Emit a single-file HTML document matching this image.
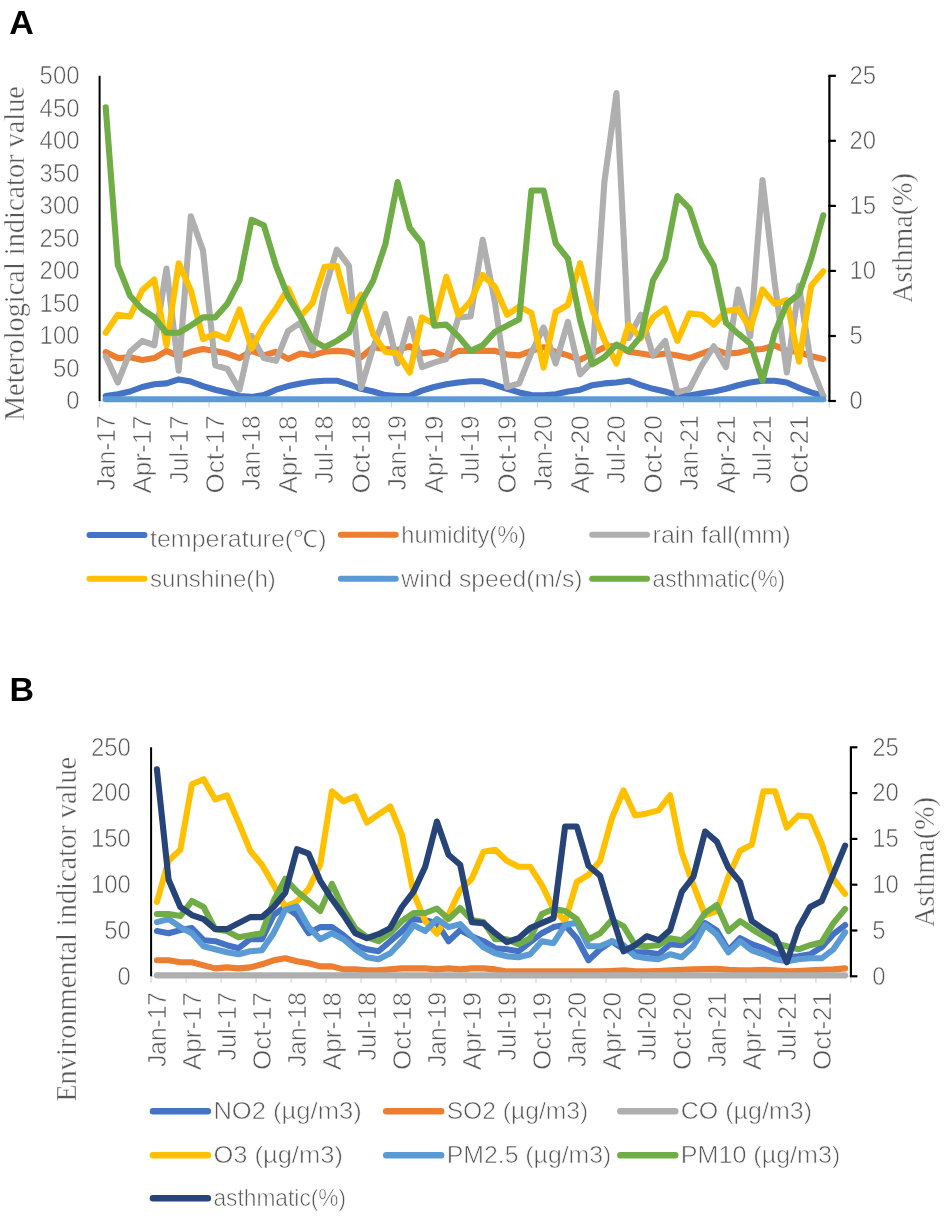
<!DOCTYPE html>
<html><head><meta charset="utf-8"><style>
html,body{margin:0;padding:0;background:#fff;width:945px;height:1217px;overflow:hidden}
svg{display:block;will-change:transform}
text{font-family:"Liberation Sans",sans-serif;stroke:#fff;stroke-width:0.6px}
.t{font-family:"Liberation Serif",serif;stroke:#fff;stroke-width:0.4px}
</style></head><body>
<svg width="945" height="1217" viewBox="0 0 945 1217">
<rect width="945" height="1217" fill="#fff"/>
<text x="9.2" y="34" font-size="34" font-weight="bold" fill="#000" style="stroke:none">A</text>
<text x="9.6" y="701.3" font-size="34" font-weight="bold" fill="#000" style="stroke:none">B</text>
<line x1="99.6" y1="401.0" x2="829.4" y2="401.0" stroke="#D9D9D9" stroke-width="1.3"/>
<line x1="99.6" y1="401.0" x2="99.6" y2="407.5" stroke="#D9D9D9" stroke-width="1.3"/>
<line x1="136.1" y1="401.0" x2="136.1" y2="407.5" stroke="#D9D9D9" stroke-width="1.3"/>
<line x1="172.6" y1="401.0" x2="172.6" y2="407.5" stroke="#D9D9D9" stroke-width="1.3"/>
<line x1="209.1" y1="401.0" x2="209.1" y2="407.5" stroke="#D9D9D9" stroke-width="1.3"/>
<line x1="245.6" y1="401.0" x2="245.6" y2="407.5" stroke="#D9D9D9" stroke-width="1.3"/>
<line x1="282.0" y1="401.0" x2="282.0" y2="407.5" stroke="#D9D9D9" stroke-width="1.3"/>
<line x1="318.5" y1="401.0" x2="318.5" y2="407.5" stroke="#D9D9D9" stroke-width="1.3"/>
<line x1="355.0" y1="401.0" x2="355.0" y2="407.5" stroke="#D9D9D9" stroke-width="1.3"/>
<line x1="391.5" y1="401.0" x2="391.5" y2="407.5" stroke="#D9D9D9" stroke-width="1.3"/>
<line x1="428.0" y1="401.0" x2="428.0" y2="407.5" stroke="#D9D9D9" stroke-width="1.3"/>
<line x1="464.5" y1="401.0" x2="464.5" y2="407.5" stroke="#D9D9D9" stroke-width="1.3"/>
<line x1="501.0" y1="401.0" x2="501.0" y2="407.5" stroke="#D9D9D9" stroke-width="1.3"/>
<line x1="537.5" y1="401.0" x2="537.5" y2="407.5" stroke="#D9D9D9" stroke-width="1.3"/>
<line x1="574.0" y1="401.0" x2="574.0" y2="407.5" stroke="#D9D9D9" stroke-width="1.3"/>
<line x1="610.5" y1="401.0" x2="610.5" y2="407.5" stroke="#D9D9D9" stroke-width="1.3"/>
<line x1="646.9" y1="401.0" x2="646.9" y2="407.5" stroke="#D9D9D9" stroke-width="1.3"/>
<line x1="683.4" y1="401.0" x2="683.4" y2="407.5" stroke="#D9D9D9" stroke-width="1.3"/>
<line x1="719.9" y1="401.0" x2="719.9" y2="407.5" stroke="#D9D9D9" stroke-width="1.3"/>
<line x1="756.4" y1="401.0" x2="756.4" y2="407.5" stroke="#D9D9D9" stroke-width="1.3"/>
<line x1="792.9" y1="401.0" x2="792.9" y2="407.5" stroke="#D9D9D9" stroke-width="1.3"/>
<line x1="829.4" y1="401.0" x2="829.4" y2="407.5" stroke="#D9D9D9" stroke-width="1.3"/>
<line x1="99.6" y1="75.8" x2="99.6" y2="401.0" stroke="#000" stroke-width="2"/>
<line x1="829.4" y1="75.8" x2="829.4" y2="401.0" stroke="#000" stroke-width="2.2"/>
<line x1="828.4" y1="401.0" x2="835.9" y2="401.0" stroke="#000" stroke-width="2.2"/>
<line x1="828.4" y1="336.0" x2="835.9" y2="336.0" stroke="#000" stroke-width="2.2"/>
<line x1="828.4" y1="270.9" x2="835.9" y2="270.9" stroke="#000" stroke-width="2.2"/>
<line x1="828.4" y1="205.9" x2="835.9" y2="205.9" stroke="#000" stroke-width="2.2"/>
<line x1="828.4" y1="140.8" x2="835.9" y2="140.8" stroke="#000" stroke-width="2.2"/>
<line x1="828.4" y1="75.8" x2="835.9" y2="75.8" stroke="#000" stroke-width="2.2"/>
<text x="79.5" y="409.3" font-size="26" fill="#575757" text-anchor="end" textLength="13.3" lengthAdjust="spacingAndGlyphs">0</text>
<text x="79.5" y="376.8" font-size="26" fill="#575757" text-anchor="end" textLength="26.6" lengthAdjust="spacingAndGlyphs">50</text>
<text x="79.5" y="344.3" font-size="26" fill="#575757" text-anchor="end" textLength="39.9" lengthAdjust="spacingAndGlyphs">100</text>
<text x="79.5" y="311.7" font-size="26" fill="#575757" text-anchor="end" textLength="39.9" lengthAdjust="spacingAndGlyphs">150</text>
<text x="79.5" y="279.2" font-size="26" fill="#575757" text-anchor="end" textLength="39.9" lengthAdjust="spacingAndGlyphs">200</text>
<text x="79.5" y="246.7" font-size="26" fill="#575757" text-anchor="end" textLength="39.9" lengthAdjust="spacingAndGlyphs">250</text>
<text x="79.5" y="214.2" font-size="26" fill="#575757" text-anchor="end" textLength="39.9" lengthAdjust="spacingAndGlyphs">300</text>
<text x="79.5" y="181.7" font-size="26" fill="#575757" text-anchor="end" textLength="39.9" lengthAdjust="spacingAndGlyphs">350</text>
<text x="79.5" y="149.1" font-size="26" fill="#575757" text-anchor="end" textLength="39.9" lengthAdjust="spacingAndGlyphs">400</text>
<text x="79.5" y="116.6" font-size="26" fill="#575757" text-anchor="end" textLength="39.9" lengthAdjust="spacingAndGlyphs">450</text>
<text x="79.5" y="84.1" font-size="26" fill="#575757" text-anchor="end" textLength="39.9" lengthAdjust="spacingAndGlyphs">500</text>
<text x="849.5" y="409.3" font-size="26" fill="#575757" textLength="13.3" lengthAdjust="spacingAndGlyphs">0</text>
<text x="849.5" y="344.3" font-size="26" fill="#575757" textLength="13.3" lengthAdjust="spacingAndGlyphs">5</text>
<text x="849.5" y="279.2" font-size="26" fill="#575757" textLength="26.6" lengthAdjust="spacingAndGlyphs">10</text>
<text x="849.5" y="214.2" font-size="26" fill="#575757" textLength="26.6" lengthAdjust="spacingAndGlyphs">15</text>
<text x="849.5" y="149.1" font-size="26" fill="#575757" textLength="26.6" lengthAdjust="spacingAndGlyphs">20</text>
<text x="849.5" y="84.1" font-size="26" fill="#575757" textLength="26.6" lengthAdjust="spacingAndGlyphs">25</text>
<text transform="translate(114.5,415.4) rotate(-90)" font-size="26.3" fill="#575757" text-anchor="end" textLength="75" lengthAdjust="spacingAndGlyphs">Jan-17</text>
<text transform="translate(151.0,415.4) rotate(-90)" font-size="26.3" fill="#575757" text-anchor="end" textLength="78.2" lengthAdjust="spacingAndGlyphs">Apr-17</text>
<text transform="translate(187.5,415.4) rotate(-90)" font-size="26.3" fill="#575757" text-anchor="end" textLength="68.7" lengthAdjust="spacingAndGlyphs">Jul-17</text>
<text transform="translate(224.0,415.4) rotate(-90)" font-size="26.3" fill="#575757" text-anchor="end" textLength="78" lengthAdjust="spacingAndGlyphs">Oct-17</text>
<text transform="translate(260.4,415.4) rotate(-90)" font-size="26.3" fill="#575757" text-anchor="end" textLength="75" lengthAdjust="spacingAndGlyphs">Jan-18</text>
<text transform="translate(296.9,415.4) rotate(-90)" font-size="26.3" fill="#575757" text-anchor="end" textLength="78.2" lengthAdjust="spacingAndGlyphs">Apr-18</text>
<text transform="translate(333.4,415.4) rotate(-90)" font-size="26.3" fill="#575757" text-anchor="end" textLength="68.7" lengthAdjust="spacingAndGlyphs">Jul-18</text>
<text transform="translate(369.9,415.4) rotate(-90)" font-size="26.3" fill="#575757" text-anchor="end" textLength="78" lengthAdjust="spacingAndGlyphs">Oct-18</text>
<text transform="translate(406.4,415.4) rotate(-90)" font-size="26.3" fill="#575757" text-anchor="end" textLength="75" lengthAdjust="spacingAndGlyphs">Jan-19</text>
<text transform="translate(442.9,415.4) rotate(-90)" font-size="26.3" fill="#575757" text-anchor="end" textLength="78.2" lengthAdjust="spacingAndGlyphs">Apr-19</text>
<text transform="translate(479.4,415.4) rotate(-90)" font-size="26.3" fill="#575757" text-anchor="end" textLength="68.7" lengthAdjust="spacingAndGlyphs">Jul-19</text>
<text transform="translate(515.9,415.4) rotate(-90)" font-size="26.3" fill="#575757" text-anchor="end" textLength="78" lengthAdjust="spacingAndGlyphs">Oct-19</text>
<text transform="translate(552.4,415.4) rotate(-90)" font-size="26.3" fill="#575757" text-anchor="end" textLength="75" lengthAdjust="spacingAndGlyphs">Jan-20</text>
<text transform="translate(588.9,415.4) rotate(-90)" font-size="26.3" fill="#575757" text-anchor="end" textLength="78.2" lengthAdjust="spacingAndGlyphs">Apr-20</text>
<text transform="translate(625.3,415.4) rotate(-90)" font-size="26.3" fill="#575757" text-anchor="end" textLength="68.7" lengthAdjust="spacingAndGlyphs">Jul-20</text>
<text transform="translate(661.8,415.4) rotate(-90)" font-size="26.3" fill="#575757" text-anchor="end" textLength="78" lengthAdjust="spacingAndGlyphs">Oct-20</text>
<text transform="translate(698.3,415.4) rotate(-90)" font-size="26.3" fill="#575757" text-anchor="end" textLength="75" lengthAdjust="spacingAndGlyphs">Jan-21</text>
<text transform="translate(734.8,415.4) rotate(-90)" font-size="26.3" fill="#575757" text-anchor="end" textLength="78.2" lengthAdjust="spacingAndGlyphs">Apr-21</text>
<text transform="translate(771.3,415.4) rotate(-90)" font-size="26.3" fill="#575757" text-anchor="end" textLength="68.7" lengthAdjust="spacingAndGlyphs">Jul-21</text>
<text transform="translate(807.8,415.4) rotate(-90)" font-size="26.3" fill="#575757" text-anchor="end" textLength="78" lengthAdjust="spacingAndGlyphs">Oct-21</text>
<text class="t" transform="translate(24.0,253.6) rotate(-90)" font-size="29.5" fill="#575757" text-anchor="middle" textLength="335" lengthAdjust="spacingAndGlyphs">Meterological indicator value</text>
<text class="t" transform="translate(911.6,238.0) rotate(-90)" font-size="29" fill="#575757" text-anchor="middle" textLength="130" lengthAdjust="spacingAndGlyphs">Asthma(%)</text>
<polyline points="105.7,396.0 117.8,394.2 130.0,391.5 142.2,387.0 154.3,384.3 166.5,383.4 178.7,379.4 190.8,381.6 203.0,386.1 215.2,389.7 227.3,392.4 239.5,396.0 251.6,396.9 263.8,395.1 276.0,389.7 288.1,386.1 300.3,383.4 312.5,381.6 324.6,380.7 336.8,380.7 348.9,384.3 361.1,388.8 373.3,391.5 385.4,395.1 397.6,396.0 409.8,395.7 421.9,390.6 434.1,387.0 446.3,384.3 458.4,382.5 470.6,381.2 482.7,381.2 494.9,384.8 507.1,388.8 519.2,392.4 531.4,395.1 543.6,395.4 555.7,394.2 567.9,391.5 580.1,389.7 592.2,385.2 604.4,383.4 616.5,382.5 628.7,380.7 640.9,385.2 653.0,388.8 665.2,391.5 677.4,395.1 689.5,395.6 701.7,393.3 713.8,391.5 726.0,388.8 738.2,385.2 750.3,382.5 762.5,380.7 774.7,380.7 786.8,382.5 799.0,387.9 811.2,392.4 823.3,396.0" fill="none" stroke="#4472C4" stroke-width="6.1" stroke-linejoin="round" stroke-linecap="round"/>
<polyline points="105.7,352.1 117.8,358.1 130.0,357.2 142.2,359.9 154.3,358.1 166.5,350.9 178.7,356.3 190.8,351.8 203.0,349.0 215.2,350.9 227.3,353.6 239.5,358.1 251.6,350.9 263.8,355.4 276.0,351.8 288.1,359.0 300.3,353.6 312.5,355.4 324.6,351.8 336.8,350.9 348.9,351.8 361.1,357.2 373.3,347.2 385.4,349.0 397.6,349.9 409.8,346.3 421.9,353.6 434.1,351.8 446.3,357.2 458.4,350.9 470.6,350.9 482.7,350.9 494.9,350.9 507.1,354.5 519.2,355.4 531.4,350.9 543.6,347.2 555.7,351.8 567.9,355.4 580.1,359.9 592.2,353.6 604.4,347.2 616.5,345.4 628.7,351.8 640.9,353.6 653.0,355.4 665.2,353.6 677.4,355.4 689.5,358.1 701.7,353.6 713.8,349.0 726.0,353.6 738.2,352.7 750.3,349.9 762.5,349.0 774.7,345.4 786.8,350.9 799.0,351.8 811.2,356.3 823.3,359.0" fill="none" stroke="#ED7D31" stroke-width="6.1" stroke-linejoin="round" stroke-linecap="round"/>
<polyline points="105.7,356.3 117.8,382.5 130.0,351.8 142.2,340.9 154.3,345.4 166.5,268.6 178.7,370.7 190.8,216.2 203.0,250.5 215.2,365.3 227.3,368.9 239.5,389.7 251.6,335.9 263.8,358.1 276.0,360.8 288.1,331.0 300.3,322.8 312.5,350.9 324.6,290.3 336.8,249.6 348.9,265.9 361.1,387.9 373.3,347.2 385.4,313.8 397.6,363.5 409.8,319.2 421.9,367.1 434.1,362.6 446.3,359.0 458.4,317.4 470.6,316.5 482.7,239.7 494.9,302.1 507.1,387.0 519.2,383.4 531.4,352.7 543.6,327.4 555.7,363.5 567.9,321.9 580.1,374.3 592.2,361.7 604.4,182.0 616.5,93.0 628.7,338.2 640.9,314.7 653.0,355.4 665.2,340.9 677.4,392.4 689.5,388.8 701.7,365.3 713.8,346.3 726.0,367.1 738.2,289.4 750.3,336.4 762.5,180.0 774.7,283.0 786.8,372.5 799.0,285.8 811.2,365.3 823.3,396.0" fill="none" stroke="#AFAFAF" stroke-width="6.1" stroke-linejoin="round" stroke-linecap="round"/>
<polyline points="105.7,332.8 117.8,314.7 130.0,316.5 142.2,290.3 154.3,279.5 166.5,345.4 178.7,263.2 190.8,290.3 203.0,339.1 215.2,333.7 227.3,339.1 239.5,309.3 251.6,348.6 263.8,325.6 276.0,308.4 288.1,288.5 300.3,316.5 312.5,303.0 324.6,266.8 336.8,265.9 348.9,311.1 361.1,294.8 373.3,334.6 385.4,351.8 397.6,353.6 409.8,372.5 421.9,317.4 434.1,323.7 446.3,276.8 458.4,314.7 470.6,301.2 482.7,274.9 494.9,286.7 507.1,314.7 519.2,306.6 531.4,312.9 543.6,367.6 555.7,312.0 567.9,304.8 580.1,263.2 592.2,309.3 604.4,340.0 616.5,363.5 628.7,324.6 640.9,338.2 653.0,317.4 665.2,308.4 677.4,340.9 689.5,313.4 701.7,314.7 713.8,324.6 726.0,311.1 738.2,309.3 750.3,328.3 762.5,289.4 774.7,303.9 786.8,300.2 799.0,361.7 811.2,285.8 823.3,271.3" fill="none" stroke="#FFC000" stroke-width="6.1" stroke-linejoin="round" stroke-linecap="round"/>
<polyline points="105.7,399.3 117.8,399.3 130.0,399.3 142.2,399.3 154.3,399.3 166.5,399.3 178.7,399.3 190.8,399.3 203.0,399.3 215.2,399.3 227.3,399.3 239.5,399.3 251.6,399.3 263.8,399.3 276.0,399.3 288.1,399.3 300.3,399.3 312.5,399.3 324.6,399.3 336.8,399.3 348.9,399.3 361.1,399.3 373.3,399.3 385.4,399.3 397.6,399.3 409.8,399.3 421.9,399.3 434.1,399.3 446.3,399.3 458.4,399.3 470.6,399.3 482.7,399.3 494.9,399.3 507.1,399.3 519.2,399.3 531.4,399.3 543.6,399.3 555.7,399.3 567.9,399.3 580.1,399.3 592.2,399.3 604.4,399.3 616.5,399.3 628.7,399.3 640.9,399.3 653.0,399.3 665.2,399.3 677.4,399.3 689.5,399.3 701.7,399.3 713.8,399.3 726.0,399.3 738.2,399.3 750.3,399.3 762.5,399.3 774.7,399.3 786.8,399.3 799.0,399.3 811.2,399.3 823.3,399.3" fill="none" stroke="#5B9BD5" stroke-width="6.1" stroke-linejoin="round" stroke-linecap="round"/>
<polyline points="105.7,107.2 117.8,265.0 130.0,295.7 142.2,309.3 154.3,317.4 166.5,332.8 178.7,332.8 190.8,325.6 203.0,317.4 215.2,317.4 227.3,303.9 239.5,280.4 251.6,219.8 263.8,225.2 276.0,265.9 288.1,296.6 300.3,316.5 312.5,340.0 324.6,347.2 336.8,340.9 348.9,332.8 361.1,302.1 373.3,280.4 385.4,244.2 397.6,182.0 409.8,228.0 421.9,243.3 434.1,325.6 446.3,324.6 458.4,336.4 470.6,350.9 482.7,345.4 494.9,331.9 507.1,325.6 519.2,319.2 531.4,190.5 543.6,190.5 555.7,243.3 567.9,258.7 580.1,320.1 592.2,364.4 604.4,357.2 616.5,344.5 628.7,350.9 640.9,336.4 653.0,280.4 665.2,258.7 677.4,196.0 689.5,208.5 701.7,245.1 713.8,265.9 726.0,322.8 738.2,333.7 750.3,343.6 762.5,380.7 774.7,332.8 786.8,303.9 799.0,293.9 811.2,258.7 823.3,215.3" fill="none" stroke="#70AD47" stroke-width="6.1" stroke-linejoin="round" stroke-linecap="round"/>
<line x1="151.1" y1="976.3" x2="850.9" y2="976.3" stroke="#D9D9D9" stroke-width="1.3"/>
<line x1="151.1" y1="976.3" x2="151.1" y2="982.8" stroke="#D9D9D9" stroke-width="1.3"/>
<line x1="186.1" y1="976.3" x2="186.1" y2="982.8" stroke="#D9D9D9" stroke-width="1.3"/>
<line x1="221.1" y1="976.3" x2="221.1" y2="982.8" stroke="#D9D9D9" stroke-width="1.3"/>
<line x1="256.1" y1="976.3" x2="256.1" y2="982.8" stroke="#D9D9D9" stroke-width="1.3"/>
<line x1="291.1" y1="976.3" x2="291.1" y2="982.8" stroke="#D9D9D9" stroke-width="1.3"/>
<line x1="326.0" y1="976.3" x2="326.0" y2="982.8" stroke="#D9D9D9" stroke-width="1.3"/>
<line x1="361.0" y1="976.3" x2="361.0" y2="982.8" stroke="#D9D9D9" stroke-width="1.3"/>
<line x1="396.0" y1="976.3" x2="396.0" y2="982.8" stroke="#D9D9D9" stroke-width="1.3"/>
<line x1="431.0" y1="976.3" x2="431.0" y2="982.8" stroke="#D9D9D9" stroke-width="1.3"/>
<line x1="466.0" y1="976.3" x2="466.0" y2="982.8" stroke="#D9D9D9" stroke-width="1.3"/>
<line x1="501.0" y1="976.3" x2="501.0" y2="982.8" stroke="#D9D9D9" stroke-width="1.3"/>
<line x1="536.0" y1="976.3" x2="536.0" y2="982.8" stroke="#D9D9D9" stroke-width="1.3"/>
<line x1="571.0" y1="976.3" x2="571.0" y2="982.8" stroke="#D9D9D9" stroke-width="1.3"/>
<line x1="606.0" y1="976.3" x2="606.0" y2="982.8" stroke="#D9D9D9" stroke-width="1.3"/>
<line x1="641.0" y1="976.3" x2="641.0" y2="982.8" stroke="#D9D9D9" stroke-width="1.3"/>
<line x1="675.9" y1="976.3" x2="675.9" y2="982.8" stroke="#D9D9D9" stroke-width="1.3"/>
<line x1="710.9" y1="976.3" x2="710.9" y2="982.8" stroke="#D9D9D9" stroke-width="1.3"/>
<line x1="745.9" y1="976.3" x2="745.9" y2="982.8" stroke="#D9D9D9" stroke-width="1.3"/>
<line x1="780.9" y1="976.3" x2="780.9" y2="982.8" stroke="#D9D9D9" stroke-width="1.3"/>
<line x1="815.9" y1="976.3" x2="815.9" y2="982.8" stroke="#D9D9D9" stroke-width="1.3"/>
<line x1="850.9" y1="976.3" x2="850.9" y2="982.8" stroke="#D9D9D9" stroke-width="1.3"/>
<line x1="151.1" y1="747.3" x2="151.1" y2="976.3" stroke="#000" stroke-width="2"/>
<line x1="850.9" y1="747.3" x2="850.9" y2="976.3" stroke="#000" stroke-width="2.2"/>
<line x1="849.9" y1="976.3" x2="857.4" y2="976.3" stroke="#000" stroke-width="2.2"/>
<line x1="849.9" y1="930.5" x2="857.4" y2="930.5" stroke="#000" stroke-width="2.2"/>
<line x1="849.9" y1="884.7" x2="857.4" y2="884.7" stroke="#000" stroke-width="2.2"/>
<line x1="849.9" y1="838.9" x2="857.4" y2="838.9" stroke="#000" stroke-width="2.2"/>
<line x1="849.9" y1="793.1" x2="857.4" y2="793.1" stroke="#000" stroke-width="2.2"/>
<line x1="849.9" y1="747.3" x2="857.4" y2="747.3" stroke="#000" stroke-width="2.2"/>
<text x="130.9" y="984.6" font-size="26" fill="#575757" text-anchor="end" textLength="13.3" lengthAdjust="spacingAndGlyphs">0</text>
<text x="130.9" y="938.8" font-size="26" fill="#575757" text-anchor="end" textLength="26.6" lengthAdjust="spacingAndGlyphs">50</text>
<text x="130.9" y="893.0" font-size="26" fill="#575757" text-anchor="end" textLength="39.9" lengthAdjust="spacingAndGlyphs">100</text>
<text x="130.9" y="847.2" font-size="26" fill="#575757" text-anchor="end" textLength="39.9" lengthAdjust="spacingAndGlyphs">150</text>
<text x="130.9" y="801.4" font-size="26" fill="#575757" text-anchor="end" textLength="39.9" lengthAdjust="spacingAndGlyphs">200</text>
<text x="130.9" y="755.6" font-size="26" fill="#575757" text-anchor="end" textLength="39.9" lengthAdjust="spacingAndGlyphs">250</text>
<text x="872.2" y="984.6" font-size="26" fill="#575757" textLength="13.3" lengthAdjust="spacingAndGlyphs">0</text>
<text x="872.2" y="938.8" font-size="26" fill="#575757" textLength="13.3" lengthAdjust="spacingAndGlyphs">5</text>
<text x="872.2" y="893.0" font-size="26" fill="#575757" textLength="26.6" lengthAdjust="spacingAndGlyphs">10</text>
<text x="872.2" y="847.2" font-size="26" fill="#575757" textLength="26.6" lengthAdjust="spacingAndGlyphs">15</text>
<text x="872.2" y="801.4" font-size="26" fill="#575757" textLength="26.6" lengthAdjust="spacingAndGlyphs">20</text>
<text x="872.2" y="755.6" font-size="26" fill="#575757" textLength="26.6" lengthAdjust="spacingAndGlyphs">25</text>
<text transform="translate(165.7,992.0) rotate(-90)" font-size="26.3" fill="#575757" text-anchor="end" textLength="75" lengthAdjust="spacingAndGlyphs">Jan-17</text>
<text transform="translate(200.7,992.0) rotate(-90)" font-size="26.3" fill="#575757" text-anchor="end" textLength="78.2" lengthAdjust="spacingAndGlyphs">Apr-17</text>
<text transform="translate(235.7,992.0) rotate(-90)" font-size="26.3" fill="#575757" text-anchor="end" textLength="68.7" lengthAdjust="spacingAndGlyphs">Jul-17</text>
<text transform="translate(270.7,992.0) rotate(-90)" font-size="26.3" fill="#575757" text-anchor="end" textLength="78" lengthAdjust="spacingAndGlyphs">Oct-17</text>
<text transform="translate(305.7,992.0) rotate(-90)" font-size="26.3" fill="#575757" text-anchor="end" textLength="75" lengthAdjust="spacingAndGlyphs">Jan-18</text>
<text transform="translate(340.7,992.0) rotate(-90)" font-size="26.3" fill="#575757" text-anchor="end" textLength="78.2" lengthAdjust="spacingAndGlyphs">Apr-18</text>
<text transform="translate(375.7,992.0) rotate(-90)" font-size="26.3" fill="#575757" text-anchor="end" textLength="68.7" lengthAdjust="spacingAndGlyphs">Jul-18</text>
<text transform="translate(410.7,992.0) rotate(-90)" font-size="26.3" fill="#575757" text-anchor="end" textLength="78" lengthAdjust="spacingAndGlyphs">Oct-18</text>
<text transform="translate(445.7,992.0) rotate(-90)" font-size="26.3" fill="#575757" text-anchor="end" textLength="75" lengthAdjust="spacingAndGlyphs">Jan-19</text>
<text transform="translate(480.6,992.0) rotate(-90)" font-size="26.3" fill="#575757" text-anchor="end" textLength="78.2" lengthAdjust="spacingAndGlyphs">Apr-19</text>
<text transform="translate(515.6,992.0) rotate(-90)" font-size="26.3" fill="#575757" text-anchor="end" textLength="68.7" lengthAdjust="spacingAndGlyphs">Jul-19</text>
<text transform="translate(550.6,992.0) rotate(-90)" font-size="26.3" fill="#575757" text-anchor="end" textLength="78" lengthAdjust="spacingAndGlyphs">Oct-19</text>
<text transform="translate(585.6,992.0) rotate(-90)" font-size="26.3" fill="#575757" text-anchor="end" textLength="75" lengthAdjust="spacingAndGlyphs">Jan-20</text>
<text transform="translate(620.6,992.0) rotate(-90)" font-size="26.3" fill="#575757" text-anchor="end" textLength="78.2" lengthAdjust="spacingAndGlyphs">Apr-20</text>
<text transform="translate(655.6,992.0) rotate(-90)" font-size="26.3" fill="#575757" text-anchor="end" textLength="68.7" lengthAdjust="spacingAndGlyphs">Jul-20</text>
<text transform="translate(690.6,992.0) rotate(-90)" font-size="26.3" fill="#575757" text-anchor="end" textLength="78" lengthAdjust="spacingAndGlyphs">Oct-20</text>
<text transform="translate(725.6,992.0) rotate(-90)" font-size="26.3" fill="#575757" text-anchor="end" textLength="75" lengthAdjust="spacingAndGlyphs">Jan-21</text>
<text transform="translate(760.6,992.0) rotate(-90)" font-size="26.3" fill="#575757" text-anchor="end" textLength="78.2" lengthAdjust="spacingAndGlyphs">Apr-21</text>
<text transform="translate(795.6,992.0) rotate(-90)" font-size="26.3" fill="#575757" text-anchor="end" textLength="68.7" lengthAdjust="spacingAndGlyphs">Jul-21</text>
<text transform="translate(830.5,992.0) rotate(-90)" font-size="26.3" fill="#575757" text-anchor="end" textLength="78" lengthAdjust="spacingAndGlyphs">Oct-21</text>
<text class="t" transform="translate(76.0,929.3) rotate(-90)" font-size="29.5" fill="#575757" text-anchor="middle" textLength="345" lengthAdjust="spacingAndGlyphs">Environmental indicator value</text>
<text class="t" transform="translate(933.5,862.0) rotate(-90)" font-size="29" fill="#575757" text-anchor="middle" textLength="130" lengthAdjust="spacingAndGlyphs">Asthma(%)</text>
<polyline points="156.9,931.1 168.6,933.2 180.3,930.1 191.9,928.1 203.6,940.2 215.2,941.2 226.9,945.2 238.6,948.2 250.2,939.2 261.9,939.2 273.6,915.1 285.2,907.0 296.9,915.1 308.6,933.2 320.2,927.1 331.9,927.1 343.5,935.2 355.2,945.2 366.9,949.3 378.5,951.3 390.2,941.2 401.9,931.1 413.5,919.1 425.2,920.1 436.9,923.1 448.5,941.2 460.2,930.1 471.8,936.2 483.5,941.2 495.2,948.2 506.8,949.3 518.5,951.3 530.2,942.2 541.8,933.2 553.5,927.1 565.1,925.1 576.8,938.2 588.5,960.3 600.1,949.3 611.8,941.2 623.5,949.3 635.1,952.3 646.8,952.3 658.5,954.3 670.1,944.2 681.8,945.2 693.4,936.2 705.1,923.1 716.8,930.6 728.4,950.3 740.1,938.2 751.8,944.2 763.4,948.2 775.1,953.3 786.8,957.3 798.4,956.3 810.1,954.3 821.7,947.2 833.4,934.2 845.1,925.1" fill="none" stroke="#4472C4" stroke-width="6.1" stroke-linejoin="round" stroke-linecap="round"/>
<polyline points="156.9,960.3 168.6,960.3 180.3,962.3 191.9,962.3 203.6,965.4 215.2,968.4 226.9,967.4 238.6,968.4 250.2,967.4 261.9,964.3 273.6,960.3 285.2,958.3 296.9,961.3 308.6,963.3 320.2,966.4 331.9,966.4 343.5,969.4 355.2,969.4 366.9,970.4 378.5,970.4 390.2,969.4 401.9,968.4 413.5,968.4 425.2,968.4 436.9,969.4 448.5,968.4 460.2,969.4 471.8,968.4 483.5,968.4 495.2,969.4 506.8,971.4 518.5,971.4 530.2,971.4 541.8,971.4 553.5,971.4 565.1,971.4 576.8,971.4 588.5,971.4 600.1,971.4 611.8,971.0 623.5,970.4 635.1,971.4 646.8,971.4 658.5,971.0 670.1,970.4 681.8,969.8 693.4,969.4 705.1,969.0 716.8,968.9 728.4,969.8 740.1,970.4 751.8,970.4 763.4,969.8 775.1,970.4 786.8,971.4 798.4,971.0 810.1,970.4 821.7,969.8 833.4,969.4 845.1,968.4" fill="none" stroke="#ED7D31" stroke-width="6.1" stroke-linejoin="round" stroke-linecap="round"/>
<polyline points="156.9,975.4 168.6,975.4 180.3,975.4 191.9,975.4 203.6,975.4 215.2,975.4 226.9,975.4 238.6,975.4 250.2,975.4 261.9,975.4 273.6,975.4 285.2,975.4 296.9,975.4 308.6,975.4 320.2,975.4 331.9,975.4 343.5,975.4 355.2,975.4 366.9,975.4 378.5,975.4 390.2,975.4 401.9,975.4 413.5,975.4 425.2,975.4 436.9,975.4 448.5,975.4 460.2,975.4 471.8,975.4 483.5,975.4 495.2,975.4 506.8,975.4 518.5,975.4 530.2,975.4 541.8,975.4 553.5,975.4 565.1,975.4 576.8,975.4 588.5,975.4 600.1,975.4 611.8,975.4 623.5,975.4 635.1,975.4 646.8,975.4 658.5,975.4 670.1,975.4 681.8,975.4 693.4,975.4 705.1,975.4 716.8,975.4 728.4,975.4 740.1,975.4 751.8,975.4 763.4,975.4 775.1,975.4 786.8,975.4 798.4,975.4 810.1,975.4 821.7,975.4 833.4,975.4 845.1,975.4" fill="none" stroke="#AFAFAF" stroke-width="6.1" stroke-linejoin="round" stroke-linecap="round"/>
<polyline points="156.9,902.0 168.6,860.7 180.3,849.7 191.9,784.3 203.6,779.2 215.2,799.4 226.9,795.3 238.6,822.5 250.2,850.7 261.9,864.7 273.6,884.9 285.2,907.0 296.9,901.5 308.6,888.9 320.2,864.7 331.9,791.3 343.5,801.4 355.2,796.3 366.9,822.5 378.5,814.4 390.2,806.4 401.9,834.6 413.5,892.9 425.2,921.1 436.9,933.7 448.5,915.1 460.2,889.9 471.8,878.8 483.5,851.7 495.2,849.7 506.8,860.7 518.5,866.8 530.2,866.8 541.8,884.9 553.5,909.0 565.1,921.1 576.8,881.9 588.5,874.8 600.1,860.7 611.8,818.5 623.5,790.3 635.1,815.5 646.8,813.4 658.5,810.4 670.1,795.3 681.8,852.7 693.4,884.9 705.1,915.1 716.8,911.0 728.4,876.8 740.1,850.7 751.8,844.6 763.4,791.3 775.1,791.3 786.8,827.5 798.4,815.5 810.1,816.5 821.7,843.6 833.4,878.8 845.1,893.9" fill="none" stroke="#FFC000" stroke-width="6.1" stroke-linejoin="round" stroke-linecap="round"/>
<polyline points="156.9,922.1 168.6,919.1 180.3,927.1 191.9,933.2 203.6,946.2 215.2,949.3 226.9,952.3 238.6,954.3 250.2,951.3 261.9,950.3 273.6,933.2 285.2,910.0 296.9,906.5 308.6,927.1 320.2,939.2 331.9,933.2 343.5,939.2 355.2,949.3 366.9,957.3 378.5,959.3 390.2,953.3 401.9,941.2 413.5,925.1 425.2,931.1 436.9,919.1 448.5,927.1 460.2,924.1 471.8,936.2 483.5,947.2 495.2,953.3 506.8,956.3 518.5,957.3 530.2,954.3 541.8,941.2 553.5,943.2 565.1,925.1 576.8,922.6 588.5,946.2 600.1,946.2 611.8,941.2 623.5,945.2 635.1,956.3 646.8,958.3 658.5,959.3 670.1,954.3 681.8,957.3 693.4,946.2 705.1,925.1 716.8,934.7 728.4,952.3 740.1,941.2 751.8,950.3 763.4,954.3 775.1,959.3 786.8,961.3 798.4,959.3 810.1,958.3 821.7,958.3 833.4,949.3 845.1,932.2" fill="none" stroke="#5B9BD5" stroke-width="6.1" stroke-linejoin="round" stroke-linecap="round"/>
<polyline points="156.9,914.0 168.6,914.0 180.3,916.1 191.9,901.0 203.6,907.0 215.2,929.1 226.9,931.1 238.6,937.2 250.2,935.2 261.9,933.2 273.6,901.0 285.2,878.8 296.9,891.4 308.6,901.0 320.2,911.0 331.9,883.9 343.5,909.0 355.2,928.1 366.9,937.2 378.5,941.2 390.2,933.2 401.9,921.1 413.5,913.0 425.2,913.0 436.9,908.5 448.5,919.1 460.2,908.0 471.8,920.1 483.5,922.1 495.2,939.2 506.8,939.2 518.5,944.2 530.2,938.2 541.8,914.0 553.5,909.0 565.1,911.0 576.8,919.1 588.5,939.2 600.1,933.2 611.8,920.1 623.5,926.1 635.1,945.2 646.8,946.2 658.5,945.2 670.1,938.2 681.8,940.2 693.4,930.1 705.1,913.0 716.8,905.0 728.4,931.1 740.1,921.1 751.8,929.1 763.4,936.2 775.1,943.2 786.8,946.2 798.4,949.3 810.1,945.2 821.7,942.2 833.4,923.1 845.1,909.0" fill="none" stroke="#70AD47" stroke-width="6.1" stroke-linejoin="round" stroke-linecap="round"/>
<polyline points="156.9,769.2 168.6,879.8 180.3,907.0 191.9,915.1 203.6,919.1 215.2,929.1 226.9,929.1 238.6,923.1 250.2,917.1 261.9,917.1 273.6,907.0 285.2,892.9 296.9,849.2 308.6,853.7 320.2,880.8 331.9,899.0 343.5,915.1 355.2,933.2 366.9,938.2 378.5,934.2 390.2,928.1 401.9,907.0 413.5,891.9 425.2,866.8 436.9,821.5 448.5,854.7 460.2,864.7 471.8,922.1 483.5,923.1 495.2,933.2 506.8,942.2 518.5,938.2 530.2,928.1 541.8,923.1 553.5,918.1 565.1,826.5 576.8,826.5 588.5,865.8 600.1,875.8 611.8,915.1 623.5,951.3 635.1,945.2 646.8,936.2 658.5,940.2 670.1,930.1 681.8,891.9 693.4,876.8 705.1,831.5 716.8,841.6 728.4,867.8 740.1,881.9 751.8,921.1 763.4,929.1 775.1,936.2 786.8,962.3 798.4,928.1 810.1,907.0 821.7,901.0 833.4,873.8 845.1,845.6" fill="none" stroke="#264478" stroke-width="6.1" stroke-linejoin="round" stroke-linecap="round"/>
<line x1="89.5" y1="535.0" x2="144.5" y2="535.0" stroke="#4472C4" stroke-width="5.9" stroke-linecap="round"/><text x="150.0" y="546.6" font-size="24" fill="#575757" textLength="176.5" lengthAdjust="spacingAndGlyphs">temperature(℃)</text>
<line x1="340.8" y1="534.8" x2="395.8" y2="534.8" stroke="#ED7D31" stroke-width="5.9" stroke-linecap="round"/><text x="401.3" y="543.0" font-size="24" fill="#575757" textLength="124.8" lengthAdjust="spacingAndGlyphs">humidity(%)</text>
<line x1="592.1" y1="534.8" x2="647.1" y2="534.8" stroke="#AFAFAF" stroke-width="5.9" stroke-linecap="round"/><text x="652.6" y="543.0" font-size="24" fill="#575757" textLength="138.3" lengthAdjust="spacingAndGlyphs">rain fall(mm)</text>
<line x1="89.5" y1="578.8" x2="144.5" y2="578.8" stroke="#FFC000" stroke-width="5.9" stroke-linecap="round"/><text x="150.0" y="587.0" font-size="24" fill="#575757" textLength="125.8" lengthAdjust="spacingAndGlyphs">sunshine(h)</text>
<line x1="340.8" y1="578.8" x2="395.8" y2="578.8" stroke="#5B9BD5" stroke-width="5.9" stroke-linecap="round"/><text x="401.3" y="587.0" font-size="24" fill="#575757" textLength="181.2" lengthAdjust="spacingAndGlyphs">wind speed(m/s)</text>
<line x1="592.1" y1="578.8" x2="647.1" y2="578.8" stroke="#70AD47" stroke-width="5.9" stroke-linecap="round"/><text x="652.6" y="587.0" font-size="24" fill="#575757" textLength="132.8" lengthAdjust="spacingAndGlyphs">asthmatic(%)</text>
<line x1="152.9" y1="1111.3" x2="207.9" y2="1111.3" stroke="#4472C4" stroke-width="6.4" stroke-linecap="round"/><text x="213.4" y="1118.9" font-size="24" fill="#575757" textLength="148.3" lengthAdjust="spacingAndGlyphs">NO2 (µg/m3)</text>
<line x1="386.2" y1="1111.3" x2="441.2" y2="1111.3" stroke="#ED7D31" stroke-width="6.4" stroke-linecap="round"/><text x="446.7" y="1118.9" font-size="24" fill="#575757" textLength="141.5" lengthAdjust="spacingAndGlyphs">SO2 (µg/m3)</text>
<line x1="620.3" y1="1111.3" x2="675.3" y2="1111.3" stroke="#AFAFAF" stroke-width="6.4" stroke-linecap="round"/><text x="680.8" y="1118.9" font-size="24" fill="#575757" textLength="131.2" lengthAdjust="spacingAndGlyphs">CO (µg/m3)</text>
<line x1="152.9" y1="1155.2" x2="207.9" y2="1155.2" stroke="#FFC000" stroke-width="6.4" stroke-linecap="round"/><text x="213.4" y="1162.8" font-size="24" fill="#575757" textLength="129.5" lengthAdjust="spacingAndGlyphs">O3 (µg/m3)</text>
<line x1="386.2" y1="1155.2" x2="441.2" y2="1155.2" stroke="#5B9BD5" stroke-width="6.4" stroke-linecap="round"/><text x="446.7" y="1162.8" font-size="24" fill="#575757" textLength="164.7" lengthAdjust="spacingAndGlyphs">PM2.5 (µg/m3)</text>
<line x1="620.3" y1="1155.2" x2="675.3" y2="1155.2" stroke="#70AD47" stroke-width="6.4" stroke-linecap="round"/><text x="680.8" y="1162.8" font-size="24" fill="#575757" textLength="159.5" lengthAdjust="spacingAndGlyphs">PM10 (µg/m3)</text>
<line x1="152.9" y1="1198.3" x2="207.9" y2="1198.3" stroke="#264478" stroke-width="6.4" stroke-linecap="round"/><text x="213.4" y="1205.9" font-size="24" fill="#575757" textLength="132.8" lengthAdjust="spacingAndGlyphs">asthmatic(%)</text>
</svg></body></html>
